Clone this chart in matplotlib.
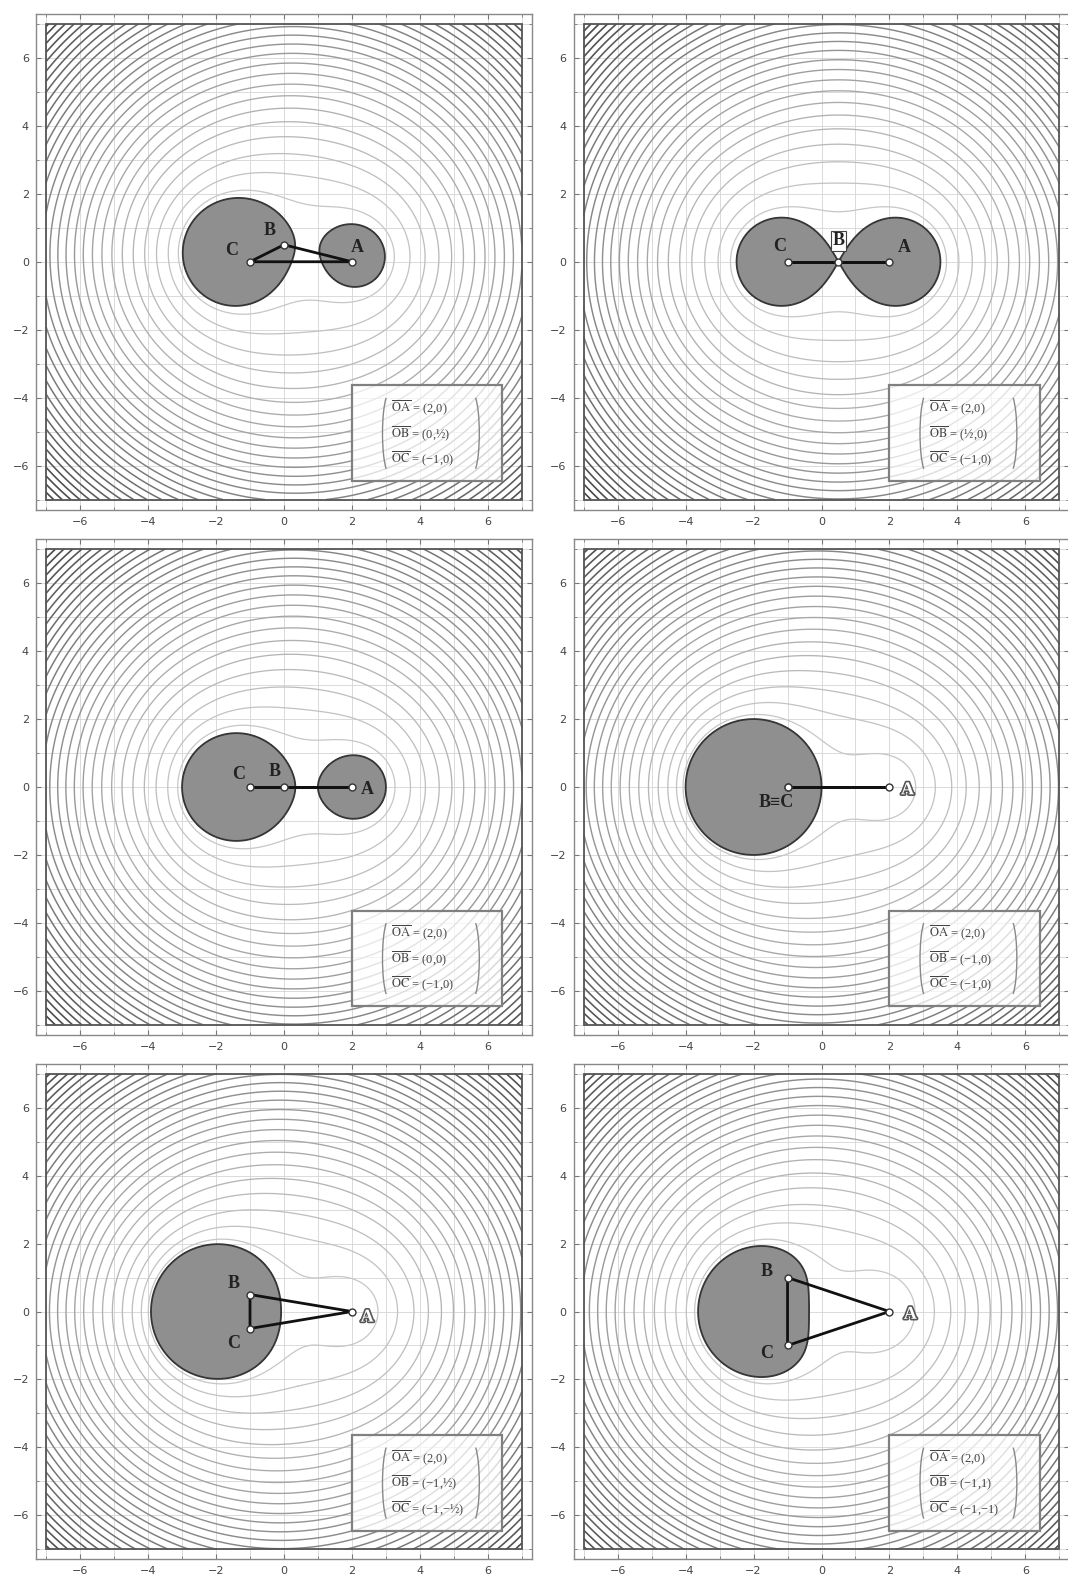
import numpy as np
import matplotlib
matplotlib.use("Agg")
import matplotlib.pyplot as plt
from matplotlib.patches import Rectangle, Arc
import matplotlib.patheffects as pe

plt.rcParams['mathtext.fontset'] = 'stix'

# ---- data ----
A_pts = [(2, 0), (2, 0), (2, 0), (2, 0), (2, 0), (2, 0)]
B_pts = [(0, 0.5), (0.5, 0), (0, 0), (-1, 0), (-1, 0.5), (-1, 1)]
C_pts = [(-1, 0), (-1, 0), (-1, 0), (-1, 0), (-1, -0.5), (-1, -1)]
legend_lines = [
    ["(2,0)", "(0,½)", "(−1,0)"],
    ["(2,0)", "(½,0)", "(−1,0)"],
    ["(2,0)", "(0,0)", "(−1,0)"],
    ["(2,0)", "(−1,0)", "(−1,0)"],
    ["(2,0)", "(−1,½)", "(−1,−½)"],
    ["(2,0)", "(−1,1)", "(−1,−1)"],
]
vec_names = ["OA", "OB", "OC"]
tick_vals = [-6, -4, -2, 0, 2, 4, 6]
domain = 7.0
view = 7.3
level_step = 1.45

# label placement (offsets in points) per panel: A, B, C
label_off = [
    {"A": (4, 10), "B": (-10, 10), "C": (-13, 8)},
    {"A": (11, 10), "B": (0, 15), "C": (-6, 11)},
    {"A": (11, -2), "B": (-7, 11), "C": (-8, 9)},
    {"A": (13, -2), "BC": (-8, -11)},
    {"A": (11, -4), "B": (-12, 8), "C": (-12, -11)},
    {"A": (15, -2), "B": (-15, 4), "C": (-15, -6)},
]
outlined_A = [False, False, False, True, True, True]

fig = plt.figure(figsize=(10.68, 15.84), dpi=100)
lefts = [0.0337, 0.537]
bottoms = [0.6782, 0.3466, 0.01547]
w, h = 0.4644, 0.3131

xs = np.linspace(-domain, domain, 701)
X, Y = np.meshgrid(xs, xs)
label_font = ['Liberation Serif', 'DejaVu Serif']

for i in range(6):
    r, c = divmod(i, 2)
    ax = fig.add_axes([lefts[c], bottoms[r], w, h])
    ax.set_xlim(-view, view)
    ax.set_ylim(-view, view)
    A = np.array(A_pts[i]); B = np.array(B_pts[i]); C = np.array(C_pts[i])
    a = np.hypot(X - A[0], Y - A[1])
    b = np.hypot(X - B[0], Y - B[1])
    cc = np.hypot(X - C[0], Y - C[1])
    H = (a + b + cc) * (-a + b + cc) * (a - b + cc) * (a + b - cc)
    K = np.sqrt(np.clip(H, 0, None)) / 4.0
    levels = np.arange(level_step, K.max(), level_step)
    greys = np.interp(levels, [0, 42], [0.80, 0.28])
    lws = np.interp(levels, [0, 42], [0.9, 1.2])
    ax.contour(X, Y, K, levels=levels, colors=[str(g) for g in greys],
               linewidths=lws, zorder=2)
    ax.contourf(X, Y, H, levels=[H.min() - 1, 0], colors=['#8f8f8f'], zorder=3)
    ax.contour(X, Y, H, levels=[0], colors='#363636', linewidths=1.3, zorder=3)

    # contour-domain frame
    ax.add_patch(Rectangle((-domain, -domain), 2 * domain, 2 * domain,
                           fill=False, ec='#555555', lw=1.3, zorder=4))

    # grid and ticks
    ax.set_xticks(tick_vals)
    ax.set_yticks(tick_vals)
    ax.set_xticks(range(-7, 8), minor=True)
    ax.set_yticks(range(-7, 8), minor=True)
    ax.set_xticklabels([str(t).replace('-', '−') for t in tick_vals])
    ax.set_yticklabels([str(t).replace('-', '−') for t in tick_vals])
    ax.grid(which='both', color='#d4d4d4', lw=0.6, zorder=0)
    ax.set_axisbelow(True)
    ax.tick_params(which='both', direction='in', top=True, right=True,
                   colors='#777777', labelcolor='#444444', labelsize=8)
    ax.tick_params(which='major', length=3.5, pad=5)
    ax.tick_params(which='minor', length=2)
    for s in ax.spines.values():
        s.set_color('#888888')
        s.set_linewidth(1.0)

    # triangle
    tri = np.array([A, B, C, A])
    ax.plot(tri[:, 0], tri[:, 1], color='#111111', lw=2.0, zorder=5,
            solid_joinstyle='round')
    pts = np.array([A, B, C])
    ax.plot(pts[:, 0], pts[:, 1], 'o', ms=5, mfc='white', mec='#333333',
            mew=1.0, zorder=6)

    # point labels
    offs = label_off[i]
    kw = dict(textcoords='offset points', ha='center', va='center',
              fontsize=13, fontweight='bold', family=label_font, zorder=7)
    if outlined_A[i]:
        ax.annotate('A', A, xytext=offs['A'], color='white',
                    path_effects=[pe.withStroke(linewidth=2.4, foreground='#555555')], **kw)
    else:
        ax.annotate('A', A, xytext=offs['A'], color='#222222', **kw)
    if 'BC' in offs:
        ax.annotate('B≡C', B, xytext=offs['BC'], color='#222222', **kw)
    else:
        if i == 1:
            ax.annotate('B', B, xytext=offs['B'], color='#222222',
                        bbox=dict(boxstyle='square,pad=0.08', fc='white',
                                  ec='#444444', lw=0.8), **kw)
        else:
            ax.annotate('B', B, xytext=offs['B'], color='#222222', **kw)
        ax.annotate('C', C, xytext=offs['C'], color='#222222', **kw)

    # legend box
    ax.add_patch(Rectangle((2.0, -6.45), 4.43, 2.81, fc='white', alpha=0.72,
                           ec='none', zorder=7))
    ax.add_patch(Rectangle((2.0, -6.45), 4.43, 2.81, fill=False,
                           ec='#808080', lw=1.6, zorder=8))
    ys_leg = [-4.3, -5.05, -5.8]
    for name, val, yy in zip(vec_names, legend_lines[i], ys_leg):
        ax.text(3.15, yy, r'$\overline{\mathrm{' + name + '}}$' + ' = ' + val,
                fontsize=9, family=label_font, color='#444444',
                va='center', ha='left', zorder=9)
    ax.add_patch(Arc((3.1, -5.05), 0.4, 2.35, theta1=95, theta2=265,
                     color='#888888', lw=1.0, zorder=9))
    ax.add_patch(Arc((5.55, -5.05), 0.4, 2.35, theta1=-85, theta2=85,
                     color='#888888', lw=1.0, zorder=9))

fig.savefig('out.png', dpi=100)
